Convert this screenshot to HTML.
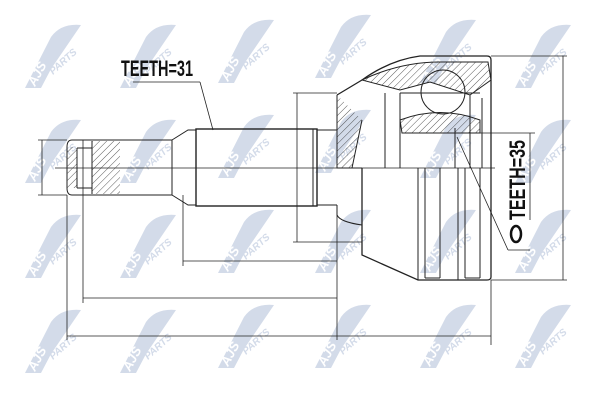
<!DOCTYPE html>
<html><head><meta charset="utf-8"><style>
html,body{margin:0;padding:0;background:#fff;}
svg{display:block}
</style></head><body>
<svg width="600" height="400" viewBox="0 0 600 400" xmlns="http://www.w3.org/2000/svg">
<defs>
<g id="wm">
  <path d="M-30,33 L-4,-18 Q6,-32 26,-30 L-4,14 L-14,33 Z" fill="#d3dbe9"/>
  <text x="-20" y="32" transform="rotate(-62 -20 32)" font-family="Liberation Sans,sans-serif" font-weight="bold" font-style="italic" font-size="13" fill="#fff">AJS</text>
  <text x="-2" y="20" transform="rotate(-42 -2 20)" font-family="Liberation Sans,sans-serif" font-weight="bold" font-style="italic" font-size="10" fill="#d3dbe9">PARTS</text>
</g>
<pattern id="h" width="5" height="5" patternUnits="userSpaceOnUse" patternTransform="rotate(45)">
  <line x1="0" y1="0" x2="0" y2="5" stroke="#333" stroke-width="0.8"/>
</pattern>
</defs>
<g>
<use href="#wm" x="55" y="55"/><use href="#wm" x="150" y="55"/><use href="#wm" x="248" y="50"/><use href="#wm" x="345" y="45"/><use href="#wm" x="450" y="50"/><use href="#wm" x="545" y="55"/>
<use href="#wm" x="55" y="150"/><use href="#wm" x="150" y="150"/><use href="#wm" x="248" y="145"/><use href="#wm" x="345" y="140"/><use href="#wm" x="450" y="145"/><use href="#wm" x="545" y="150"/>
<use href="#wm" x="55" y="245"/><use href="#wm" x="150" y="245"/><use href="#wm" x="248" y="240"/><use href="#wm" x="345" y="240"/><use href="#wm" x="450" y="240"/><use href="#wm" x="545" y="240"/>
<use href="#wm" x="55" y="340"/><use href="#wm" x="150" y="340"/><use href="#wm" x="248" y="335"/><use href="#wm" x="345" y="335"/><use href="#wm" x="450" y="335"/><use href="#wm" x="545" y="335"/>
</g>
<g stroke="#222" stroke-width="1" fill="none">
<line x1="55" y1="168" x2="495" y2="168" stroke-width="0.8"/>
<path d="M72,140 L172,140 L172,195 L72,195 Q67,195 67,188 L67,147 Q67,140 72,140 Z"/>
<rect x="67" y="147" width="10" height="41" fill="url(#h)" stroke="none"/>
<rect x="92" y="141" width="28" height="53" fill="url(#h)" stroke="none"/>
<line x1="77" y1="148" x2="92" y2="148"/><line x1="77" y1="188" x2="92" y2="188"/>
<line x1="77" y1="148" x2="77" y2="188"/><line x1="92" y1="141" x2="92" y2="194"/>
<path d="M172,140 L188,130 L196,130 M172,195 L188,205 L196,205"/>
<rect x="196" y="129" width="121" height="77" stroke-width="1.4"/>
<line x1="317" y1="130" x2="337" y2="130"/><line x1="317" y1="205" x2="337" y2="205"/>
<line x1="313" y1="129" x2="313" y2="206"/>
<path d="M337,95 L362,80 Q390,60 420,56 L487,56 Q491,56 491,60 L491,277 Q491,280 487,280 L418,280 L362,255 L362,168" stroke-width="1.3"/>
<path d="M337,95 L337,130 M337,205 L337,215 Q340,222 362,225"/>
<path d="M337,95 L337,168 L352,168 L362,120 M352,168 L362,168" fill="url(#h)"/>
<path d="M362,80 Q400,62 440,62 L488,62 L491,80 L470,95 L430,82 L400,90 Z" fill="url(#h)"/>
<circle cx="443" cy="92" r="22"/>
<path d="M400,120 Q440,105 480,120 L480,133 L402,133 Z" fill="url(#h)"/>
<line x1="385" y1="93" x2="385" y2="168"/><line x1="400" y1="93" x2="400" y2="168"/>
<line x1="400" y1="93" x2="480" y2="93"/>
<line x1="470" y1="95" x2="470" y2="168"/><line x1="482" y1="98" x2="482" y2="168"/>
<line x1="418" y1="168" x2="418" y2="280"/><line x1="425" y1="168" x2="425" y2="278"/><line x1="440" y1="168" x2="440" y2="278"/>
<line x1="458" y1="168" x2="458" y2="280"/><line x1="465" y1="168" x2="465" y2="278"/><line x1="480" y1="168" x2="480" y2="278"/>
<line x1="425" y1="278" x2="440" y2="278"/><line x1="465" y1="278" x2="480" y2="278"/>
<line x1="455" y1="128" x2="455" y2="168"/>
<g stroke-width="0.8">
<line x1="38" y1="140" x2="67" y2="140"/><line x1="38" y1="195" x2="67" y2="195"/><line x1="42" y1="140" x2="42" y2="195"/>
<line x1="293" y1="93" x2="337" y2="93"/><line x1="293" y1="242" x2="362" y2="242"/><line x1="297" y1="93" x2="297" y2="242"/>
<line x1="183" y1="195" x2="183" y2="266"/><line x1="83" y1="140" x2="83" y2="303"/><line x1="67" y1="195" x2="67" y2="340"/>
<line x1="337" y1="215" x2="337" y2="340"/><line x1="491" y1="280" x2="491" y2="345"/>
<line x1="183" y1="261" x2="337" y2="261"/><line x1="83" y1="298" x2="337" y2="298"/><line x1="67" y1="336" x2="491" y2="336"/>
<line x1="491" y1="56" x2="567" y2="56"/><line x1="491" y1="280" x2="567" y2="280"/><line x1="563" y1="56" x2="563" y2="280"/>
<line x1="460" y1="133" x2="535" y2="133"/><line x1="530" y1="133" x2="530" y2="220"/>
<line x1="457" y1="137" x2="508" y2="250"/><line x1="508" y1="250" x2="530" y2="250"/>
<line x1="133" y1="82" x2="200" y2="82"/><line x1="200" y1="82" x2="213" y2="130"/>
</g>
</g>
<text x="121" y="76" font-family="Liberation Sans,sans-serif" font-weight="bold" font-size="22" fill="#111" textLength="72" lengthAdjust="spacingAndGlyphs">TEETH=31</text>
<text transform="translate(525,220) rotate(-90)" font-family="Liberation Sans,sans-serif" font-weight="bold" font-size="22" fill="#111" textLength="80" lengthAdjust="spacingAndGlyphs">TEETH=35</text>
<ellipse cx="516" cy="234" rx="5" ry="8" fill="none" stroke="#111" stroke-width="2.5"/>
</svg>
</body></html>
